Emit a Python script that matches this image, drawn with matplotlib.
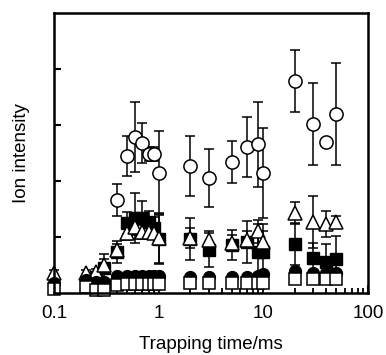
import numpy as np
import matplotlib.pyplot as plt
from matplotlib.ticker import NullFormatter, LogLocator

plt.rcParams['font.family'] = ['Liberation Sans', 'DejaVu Sans']

# open circles
x_oc = [0.4, 0.5, 0.6, 0.7, 0.8, 0.9, 1, 2, 3, 5, 7, 9, 10, 20, 30, 40, 50]
y_oc = [1.66, 2.45, 2.79, 2.68, 2.48, 2.48, 2.14, 2.27, 2.05, 2.34, 2.61, 2.66, 2.14, 3.79, 3.02, 2.70, 3.20]
e_oc = [0.28, 0.36, 0.63, 0.36, 0.12, 0.12, 0.75, 0.53, 0.52, 0.37, 0.53, 0.76, 0.8, 0.55, 0.73, 0.05, 0.91]

# filled squares
x_fs = [0.25, 0.3, 0.4, 0.5, 0.6, 0.7, 0.8, 0.9, 1, 2, 3, 5, 7, 9, 10, 20, 30, 40, 50]
y_fs = [0.28, 0.45, 0.73, 1.25, 1.34, 1.34, 1.27, 1.16, 0.96, 0.96, 0.77, 0.86, 0.91, 0.73, 0.73, 0.875, 0.63, 0.55, 0.61]
e_fs = [0.1, 0.25, 0.2, 0.2, 0.45, 0.3, 0.2, 0.2, 0.45, 0.38, 0.3, 0.27, 0.37, 0.5, 0.5, 0.37, 0.27, 0.33, 0.4]

# open triangles
x_ot = [0.1, 0.2, 0.25, 0.3, 0.4, 0.5, 0.6, 0.7, 0.8, 0.9, 1, 2, 3, 5, 7, 9, 10, 20, 30, 40, 50]
y_ot = [0.36, 0.36, 0.37, 0.5, 0.77, 1.07, 1.18, 1.09, 1.09, 1.07, 0.98, 0.98, 0.95, 0.89, 0.95, 1.1, 0.91, 1.43, 1.27, 1.23, 1.27]
e_ot = [0.05, 0.05, 0.05, 0.1, 0.1, 0.12, 0.15, 0.12, 0.1, 0.1, 0.45, 0.18, 0.15, 0.15, 0.15, 0.2, 0.2, 0.2, 0.46, 0.23, 0.1]

# filled circles
x_fc = [0.1, 0.2, 0.25, 0.3, 0.4, 0.5, 0.6, 0.7, 0.8, 0.9, 1, 2, 3, 5, 7, 9, 10, 20, 30, 40, 50]
y_fc = [0.17, 0.23, 0.2, 0.2, 0.3, 0.31, 0.31, 0.31, 0.31, 0.31, 0.31, 0.28, 0.28, 0.28, 0.28, 0.3, 0.34, 0.39, 0.35, 0.35, 0.35]

# open squares
x_os = [0.1, 0.2, 0.25, 0.3, 0.4, 0.5, 0.6, 0.7, 0.8, 0.9, 1, 2, 3, 5, 7, 9, 10, 20, 30, 40, 50]
y_os = [0.07, 0.1, 0.05, 0.05, 0.14, 0.16, 0.16, 0.16, 0.16, 0.16, 0.16, 0.17, 0.17, 0.17, 0.17, 0.17, 0.17, 0.25, 0.25, 0.25, 0.25]

fig = plt.figure(figsize=(3.86, 3.55), dpi=100)
ax = fig.add_axes([0.140, 0.175, 0.813, 0.788])


def draw(x, y, err, **kw):
    if err is None:
        arts = list(ax.plot(x, y, ls='none', **kw))
    else:
        c = ax.errorbar(x, y, yerr=err, ls='none', ecolor='black', elinewidth=1.1,
                        capsize=3.5, capthick=1.1, **kw)
        arts = [c.lines[0]] + list(c.lines[1]) + list(c.lines[2])
    for a in arts:
        a.set_clip_on(False)


draw(x_fs, y_fs, e_fs, marker='s', ms=8, mfc='black', mec='black', zorder=2)
draw(x_ot, y_ot, e_ot, marker='^', ms=10, mfc='white', mec='black', mew=1.1, zorder=3)
draw(x_fc, y_fc, None, marker='o', ms=8.5, mfc='black', mec='black', zorder=4)
draw(x_os, y_os, None, marker='s', ms=8.5, mfc='white', mec='black', mew=1.1, zorder=5)
draw(x_oc, y_oc, e_oc, marker='o', ms=9.5, mfc='white', mec='black', mew=1.1, zorder=6)

ax.set_xscale('log')
ax.set_xlim(0.1, 100)
ax.set_ylim(0, 5)
ax.set_xticks([0.1, 1, 10, 100])
ax.set_xticklabels(['0.1', '1', '10', '100'])
ax.xaxis.set_minor_locator(LogLocator(base=10, subs=np.arange(2, 10), numticks=20))
ax.xaxis.set_minor_formatter(NullFormatter())
ax.set_yticks([1, 2, 3, 4])
ax.set_yticklabels([])

ax.tick_params(axis='x', which='major', direction='in', length=6, width=1.3, pad=9, labelsize=13.5)
ax.tick_params(axis='x', which='minor', direction='in', length=3.5, width=1.3)
ax.tick_params(axis='y', direction='in', length=5, width=1.5, left=True, right=False)
ax.tick_params(top=False, right=False)
for s in ax.spines.values():
    s.set_linewidth(1.8)
    s.set_zorder(10)

ax.set_xlabel('Trapping time/ms', fontsize=13.5, labelpad=10)
ax.set_ylabel('Ion intensity', fontsize=13.5, labelpad=14)

fig.savefig('out.png', dpi=100)
